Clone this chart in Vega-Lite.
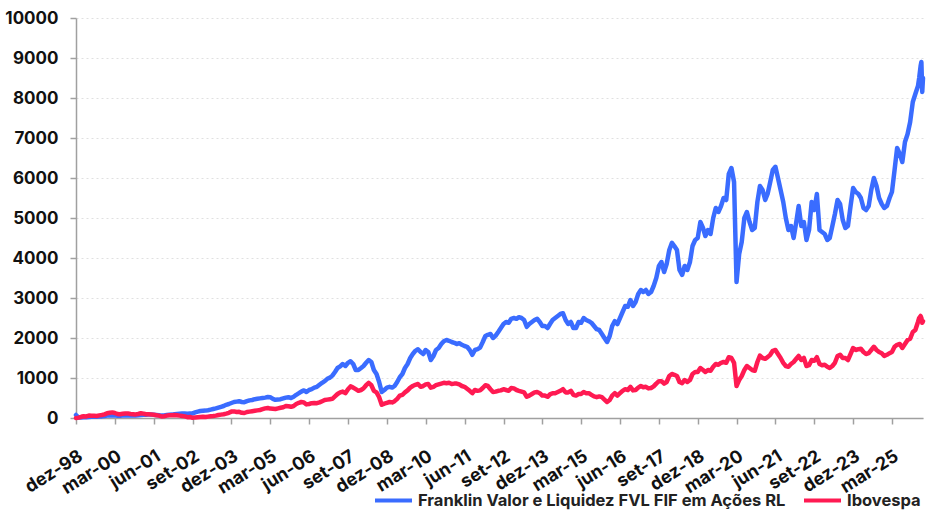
{
  "$schema": "https://vega.github.io/schema/vega-lite/v6.json",
  "width": 847,
  "height": 400,
  "autosize": {"type": "none"},
  "padding": {"left": 76, "top": 18, "right": 6, "bottom": 92},
  "background": "white",
  "config": {
    "font": "Inter",
    "view": {"stroke": null},
    "axis": {"labelFont": "Inter", "labelFontWeight": "bold", "labelColor": "#111111", "labelFontSize": 16, "domainColor": "#a0a0a0", "tickColor": "#a0a0a0", "domainWidth": 1.5, "tickWidth": 1.5, "tickSize": 6}
  },
  "data": {"values": [
{"d":"1998-12-01","f":75,"i":0},
{"d":"1999-01-01","f":10,"i":10},{"d":"1999-02-01","f":15,"i":30},{"d":"1999-03-01","f":20,"i":45},{"d":"1999-04-01","f":20,"i":40},{"d":"1999-05-01","f":25,"i":60},{"d":"1999-06-01","f":30,"i":55},{"d":"1999-07-01","f":35,"i":55},{"d":"1999-08-01","f":30,"i":50},{"d":"1999-09-01","f":35,"i":65},{"d":"1999-10-01","f":40,"i":75},{"d":"1999-11-01","f":50,"i":90},{"d":"1999-12-01","f":60,"i":120},
{"d":"2000-01-01","f":65,"i":130},{"d":"2000-02-01","f":70,"i":140},{"d":"2000-03-01","f":65,"i":125},{"d":"2000-04-01","f":55,"i":100},{"d":"2000-05-01","f":55,"i":95},{"d":"2000-06-01","f":60,"i":105},{"d":"2000-07-01","f":65,"i":110},{"d":"2000-08-01","f":70,"i":115},{"d":"2000-09-01","f":65,"i":100},{"d":"2000-10-01","f":65,"i":95},{"d":"2000-11-01","f":65,"i":90},{"d":"2000-12-01","f":70,"i":100},
{"d":"2001-01-01","f":75,"i":120},{"d":"2001-02-01","f":80,"i":110},{"d":"2001-03-01","f":80,"i":95},{"d":"2001-04-01","f":85,"i":95},{"d":"2001-05-01","f":85,"i":90},{"d":"2001-06-01","f":80,"i":80},{"d":"2001-07-01","f":75,"i":70},{"d":"2001-08-01","f":70,"i":60},{"d":"2001-09-01","f":60,"i":40},{"d":"2001-10-01","f":65,"i":45},{"d":"2001-11-01","f":75,"i":60},{"d":"2001-12-01","f":80,"i":70},
{"d":"2002-01-01","f":85,"i":70},{"d":"2002-02-01","f":95,"i":75},{"d":"2002-03-01","f":100,"i":70},{"d":"2002-04-01","f":105,"i":60},{"d":"2002-05-01","f":110,"i":50},{"d":"2002-06-01","f":110,"i":40},{"d":"2002-07-01","f":105,"i":20},{"d":"2002-08-01","f":110,"i":25},{"d":"2002-09-01","f":115,"i":5},{"d":"2002-10-01","f":140,"i":15},{"d":"2002-11-01","f":160,"i":20},{"d":"2002-12-01","f":175,"i":25},
{"d":"2003-01-01","f":180,"i":30},{"d":"2003-02-01","f":185,"i":25},{"d":"2003-03-01","f":195,"i":35},{"d":"2003-04-01","f":210,"i":45},{"d":"2003-05-01","f":225,"i":50},{"d":"2003-06-01","f":240,"i":60},{"d":"2003-07-01","f":260,"i":75},{"d":"2003-08-01","f":280,"i":85},{"d":"2003-09-01","f":300,"i":95},{"d":"2003-10-01","f":330,"i":110},{"d":"2003-11-01","f":350,"i":130},{"d":"2003-12-01","f":375,"i":160},
{"d":"2004-01-01","f":400,"i":165},{"d":"2004-02-01","f":410,"i":150},{"d":"2004-03-01","f":420,"i":155},{"d":"2004-04-01","f":400,"i":130},{"d":"2004-05-01","f":395,"i":125},{"d":"2004-06-01","f":420,"i":150},{"d":"2004-07-01","f":440,"i":160},{"d":"2004-08-01","f":450,"i":170},{"d":"2004-09-01","f":470,"i":180},{"d":"2004-10-01","f":480,"i":190},{"d":"2004-11-01","f":490,"i":200},{"d":"2004-12-01","f":500,"i":220},
{"d":"2005-01-01","f":510,"i":240},{"d":"2005-02-01","f":525,"i":250},{"d":"2005-03-01","f":520,"i":235},{"d":"2005-04-01","f":480,"i":230},{"d":"2005-05-01","f":455,"i":225},{"d":"2005-06-01","f":460,"i":240},{"d":"2005-07-01","f":470,"i":255},{"d":"2005-08-01","f":490,"i":270},{"d":"2005-09-01","f":510,"i":300},{"d":"2005-10-01","f":520,"i":295},{"d":"2005-11-01","f":500,"i":280},{"d":"2005-12-01","f":530,"i":300},
{"d":"2006-01-01","f":580,"i":350},{"d":"2006-02-01","f":620,"i":380},{"d":"2006-03-01","f":660,"i":400},{"d":"2006-04-01","f":690,"i":390},{"d":"2006-05-01","f":650,"i":340},{"d":"2006-06-01","f":700,"i":350},{"d":"2006-07-01","f":720,"i":370},{"d":"2006-08-01","f":760,"i":375},{"d":"2006-09-01","f":780,"i":370},{"d":"2006-10-01","f":830,"i":390},{"d":"2006-11-01","f":880,"i":420},{"d":"2006-12-01","f":920,"i":450},
{"d":"2007-01-01","f":980,"i":460},{"d":"2007-02-01","f":1010,"i":470},{"d":"2007-03-01","f":1060,"i":480},{"d":"2007-04-01","f":1150,"i":540},{"d":"2007-05-01","f":1250,"i":600},{"d":"2007-06-01","f":1290,"i":640},{"d":"2007-07-01","f":1350,"i":660},{"d":"2007-08-01","f":1300,"i":620},{"d":"2007-09-01","f":1380,"i":720},{"d":"2007-10-01","f":1420,"i":790},{"d":"2007-11-01","f":1350,"i":760},{"d":"2007-12-01","f":1200,"i":720},
{"d":"2008-01-01","f":1200,"i":680},{"d":"2008-02-01","f":1250,"i":700},{"d":"2008-03-01","f":1300,"i":740},{"d":"2008-04-01","f":1380,"i":820},{"d":"2008-05-01","f":1450,"i":880},{"d":"2008-06-01","f":1400,"i":820},{"d":"2008-07-01","f":1200,"i":680},{"d":"2008-08-01","f":1100,"i":640},{"d":"2008-09-01","f":900,"i":520},{"d":"2008-10-01","f":650,"i":330},{"d":"2008-11-01","f":700,"i":360},{"d":"2008-12-01","f":760,"i":380},
{"d":"2009-01-01","f":780,"i":400},{"d":"2009-02-01","f":760,"i":390},{"d":"2009-03-01","f":800,"i":420},{"d":"2009-04-01","f":900,"i":480},{"d":"2009-05-01","f":1020,"i":560},{"d":"2009-06-01","f":1100,"i":580},{"d":"2009-07-01","f":1250,"i":640},{"d":"2009-08-01","f":1350,"i":690},{"d":"2009-09-01","f":1500,"i":760},{"d":"2009-10-01","f":1600,"i":800},{"d":"2009-11-01","f":1680,"i":830},{"d":"2009-12-01","f":1720,"i":850},
{"d":"2010-01-01","f":1650,"i":780},{"d":"2010-02-01","f":1600,"i":800},{"d":"2010-03-01","f":1700,"i":840},{"d":"2010-04-01","f":1650,"i":850},{"d":"2010-05-01","f":1450,"i":760},{"d":"2010-06-01","f":1550,"i":780},{"d":"2010-07-01","f":1700,"i":820},{"d":"2010-08-01","f":1750,"i":840},{"d":"2010-09-01","f":1850,"i":860},{"d":"2010-10-01","f":1920,"i":880},{"d":"2010-11-01","f":1950,"i":870},{"d":"2010-12-01","f":1930,"i":880},
{"d":"2011-01-01","f":1900,"i":850},{"d":"2011-02-01","f":1880,"i":860},{"d":"2011-03-01","f":1850,"i":860},{"d":"2011-04-01","f":1870,"i":840},{"d":"2011-05-01","f":1830,"i":800},{"d":"2011-06-01","f":1800,"i":780},{"d":"2011-07-01","f":1780,"i":730},{"d":"2011-08-01","f":1700,"i":680},{"d":"2011-09-01","f":1580,"i":620},{"d":"2011-10-01","f":1700,"i":700},{"d":"2011-11-01","f":1720,"i":680},{"d":"2011-12-01","f":1760,"i":690},
{"d":"2012-01-01","f":1900,"i":750},{"d":"2012-02-01","f":2050,"i":820},{"d":"2012-03-01","f":2080,"i":800},{"d":"2012-04-01","f":2100,"i":720},{"d":"2012-05-01","f":2000,"i":650},{"d":"2012-06-01","f":2060,"i":660},{"d":"2012-07-01","f":2150,"i":680},{"d":"2012-08-01","f":2250,"i":690},{"d":"2012-09-01","f":2350,"i":720},{"d":"2012-10-01","f":2400,"i":700},{"d":"2012-11-01","f":2380,"i":680},{"d":"2012-12-01","f":2480,"i":750},
{"d":"2013-01-01","f":2500,"i":740},{"d":"2013-02-01","f":2480,"i":700},{"d":"2013-03-01","f":2520,"i":680},{"d":"2013-04-01","f":2500,"i":660},{"d":"2013-05-01","f":2450,"i":640},{"d":"2013-06-01","f":2280,"i":530},{"d":"2013-07-01","f":2350,"i":560},{"d":"2013-08-01","f":2400,"i":600},{"d":"2013-09-01","f":2450,"i":640},{"d":"2013-10-01","f":2480,"i":650},{"d":"2013-11-01","f":2400,"i":620},{"d":"2013-12-01","f":2300,"i":560},
{"d":"2014-01-01","f":2300,"i":560},{"d":"2014-02-01","f":2250,"i":530},{"d":"2014-03-01","f":2350,"i":590},{"d":"2014-04-01","f":2450,"i":620},{"d":"2014-05-01","f":2500,"i":620},{"d":"2014-06-01","f":2550,"i":650},{"d":"2014-07-01","f":2600,"i":680},{"d":"2014-08-01","f":2620,"i":720},{"d":"2014-09-01","f":2450,"i":640},{"d":"2014-10-01","f":2350,"i":640},{"d":"2014-11-01","f":2400,"i":680},{"d":"2014-12-01","f":2250,"i":580},
{"d":"2015-01-01","f":2250,"i":560},{"d":"2015-02-01","f":2400,"i":600},{"d":"2015-03-01","f":2380,"i":600},{"d":"2015-04-01","f":2500,"i":650},{"d":"2015-05-01","f":2450,"i":620},{"d":"2015-06-01","f":2420,"i":620},{"d":"2015-07-01","f":2380,"i":580},{"d":"2015-08-01","f":2300,"i":540},{"d":"2015-09-01","f":2220,"i":520},{"d":"2015-10-01","f":2200,"i":540},{"d":"2015-11-01","f":2100,"i":520},{"d":"2015-12-01","f":2000,"i":460},
{"d":"2016-01-01","f":1900,"i":400},{"d":"2016-02-01","f":2050,"i":450},{"d":"2016-03-01","f":2300,"i":560},{"d":"2016-04-01","f":2420,"i":620},{"d":"2016-05-01","f":2350,"i":560},{"d":"2016-06-01","f":2500,"i":620},{"d":"2016-07-01","f":2650,"i":680},{"d":"2016-08-01","f":2800,"i":720},{"d":"2016-09-01","f":2780,"i":700},{"d":"2016-10-01","f":2950,"i":780},{"d":"2016-11-01","f":2800,"i":690},{"d":"2016-12-01","f":2900,"i":700},
{"d":"2017-01-01","f":3100,"i":760},{"d":"2017-02-01","f":3200,"i":800},{"d":"2017-03-01","f":3150,"i":770},{"d":"2017-04-01","f":3200,"i":780},{"d":"2017-05-01","f":3100,"i":740},{"d":"2017-06-01","f":3150,"i":750},{"d":"2017-07-01","f":3300,"i":790},{"d":"2017-08-01","f":3500,"i":860},{"d":"2017-09-01","f":3800,"i":920},{"d":"2017-10-01","f":3900,"i":920},{"d":"2017-11-01","f":3650,"i":860},{"d":"2017-12-01","f":3850,"i":900},
{"d":"2018-01-01","f":4200,"i":1050},{"d":"2018-02-01","f":4380,"i":1100},{"d":"2018-03-01","f":4300,"i":1080},{"d":"2018-04-01","f":4200,"i":1050},{"d":"2018-05-01","f":3700,"i":900},{"d":"2018-06-01","f":3580,"i":870},{"d":"2018-07-01","f":3800,"i":950},{"d":"2018-08-01","f":3700,"i":900},{"d":"2018-09-01","f":3900,"i":950},{"d":"2018-10-01","f":4300,"i":1100},{"d":"2018-11-01","f":4450,"i":1150},{"d":"2018-12-01","f":4500,"i":1150},
{"d":"2019-01-01","f":4900,"i":1250},{"d":"2019-02-01","f":4750,"i":1200},{"d":"2019-03-01","f":4550,"i":1150},{"d":"2019-04-01","f":4700,"i":1200},{"d":"2019-05-01","f":4600,"i":1180},{"d":"2019-06-01","f":5000,"i":1280},{"d":"2019-07-01","f":5250,"i":1350},{"d":"2019-08-01","f":5150,"i":1330},{"d":"2019-09-01","f":5300,"i":1380},{"d":"2019-10-01","f":5500,"i":1400},{"d":"2019-11-01","f":5450,"i":1380},{"d":"2019-12-01","f":6100,"i":1520},
{"d":"2020-01-01","f":6250,"i":1500},{"d":"2020-02-01","f":5900,"i":1380},{"d":"2020-03-01","f":3400,"i":800},{"d":"2020-04-01","f":4100,"i":950},{"d":"2020-05-01","f":4400,"i":1050},{"d":"2020-06-01","f":5000,"i":1200},{"d":"2020-07-01","f":5150,"i":1300},{"d":"2020-08-01","f":4900,"i":1250},{"d":"2020-09-01","f":4700,"i":1200},{"d":"2020-10-01","f":4750,"i":1180},{"d":"2020-11-01","f":5400,"i":1400},{"d":"2020-12-01","f":5800,"i":1560},
{"d":"2021-01-01","f":5700,"i":1500},{"d":"2021-02-01","f":5450,"i":1480},{"d":"2021-03-01","f":5600,"i":1520},{"d":"2021-04-01","f":5900,"i":1580},{"d":"2021-05-01","f":6200,"i":1680},{"d":"2021-06-01","f":6280,"i":1700},{"d":"2021-07-01","f":6000,"i":1600},{"d":"2021-08-01","f":5700,"i":1500},{"d":"2021-09-01","f":5400,"i":1380},{"d":"2021-10-01","f":5000,"i":1300},{"d":"2021-11-01","f":4700,"i":1280},{"d":"2021-12-01","f":4800,"i":1350},
{"d":"2022-01-01","f":4500,"i":1400},{"d":"2022-02-01","f":4900,"i":1480},{"d":"2022-03-01","f":5300,"i":1550},{"d":"2022-04-01","f":4800,"i":1450},{"d":"2022-05-01","f":4900,"i":1500},{"d":"2022-06-01","f":4450,"i":1300},{"d":"2022-07-01","f":4700,"i":1320},{"d":"2022-08-01","f":5400,"i":1450},{"d":"2022-09-01","f":5200,"i":1430},{"d":"2022-10-01","f":5600,"i":1520},{"d":"2022-11-01","f":4700,"i":1350},{"d":"2022-12-01","f":4650,"i":1320},
{"d":"2023-01-01","f":4600,"i":1330},{"d":"2023-02-01","f":4450,"i":1280},{"d":"2023-03-01","f":4500,"i":1250},{"d":"2023-04-01","f":4800,"i":1300},{"d":"2023-05-01","f":5100,"i":1380},{"d":"2023-06-01","f":5450,"i":1550},{"d":"2023-07-01","f":5350,"i":1580},{"d":"2023-08-01","f":4950,"i":1500},{"d":"2023-09-01","f":4750,"i":1500},{"d":"2023-10-01","f":4800,"i":1450},{"d":"2023-11-01","f":5300,"i":1600},{"d":"2023-12-01","f":5750,"i":1750},
{"d":"2024-01-01","f":5650,"i":1700},{"d":"2024-02-01","f":5600,"i":1720},{"d":"2024-03-01","f":5500,"i":1730},{"d":"2024-04-01","f":5250,"i":1650},{"d":"2024-05-01","f":5200,"i":1600},{"d":"2024-06-01","f":5300,"i":1620},{"d":"2024-07-01","f":5700,"i":1700},{"d":"2024-08-01","f":6000,"i":1780},{"d":"2024-09-01","f":5800,"i":1700},{"d":"2024-10-01","f":5500,"i":1650},{"d":"2024-11-01","f":5350,"i":1620},{"d":"2024-12-01","f":5250,"i":1550},
{"d":"2025-01-01","f":5300,"i":1580},{"d":"2025-02-01","f":5500,"i":1620},{"d":"2025-03-01","f":5650,"i":1650},{"d":"2025-04-01","f":6200,"i":1780},{"d":"2025-05-01","f":6750,"i":1830},{"d":"2025-06-01","f":6600,"i":1850},{"d":"2025-07-01","f":6400,"i":1750},{"d":"2025-08-01","f":6900,"i":1850},{"d":"2025-09-01","f":7100,"i":1950},{"d":"2025-10-01","f":7400,"i":1980},{"d":"2025-11-01","f":7900,"i":2150},{"d":"2025-12-01","f":8100,"i":2200},
{"d":"2026-01-01","f":8300,"i":2400},{"d":"2026-01-15","f":8500,"i":2500},{"d":"2026-02-01","f":8800,"i":2550},{"d":"2026-02-10","f":8900,"i":2500},{"d":"2026-02-20","f":8150,"i":2380},{"d":"2026-03-01","f":8500,"i":2420}
  ]},
  "transform": [{"fold": ["f", "i"], "as": ["serie", "valor"]}],
  "mark": {"type": "line", "strokeWidth": 4.5, "strokeJoin": "round", "strokeCap": "round"},
  "encoding": {
    "x": {
      "field": "d", "type": "temporal",
      "scale": {"type": "utc", "domain": [{"year": 1998, "month": 12, "date": 1, "utc": true}, {"year": 2026, "month": 3, "date": 1, "utc": true}], "nice": false},
      "axis": {
        "title": null, "grid": false, "labelAngle": -32, "labelAlign": "right", "labelBaseline": "top", "labelPadding": 23, "labelFontSize": 18, "labelOverlap": false, "labelBound": false, "labelFlush": false,
        "values": [
          {"year": 1998, "month": 12, "date": 1, "utc": true}, {"year": 2000, "month": 3, "date": 1, "utc": true},
          {"year": 2001, "month": 6, "date": 1, "utc": true}, {"year": 2002, "month": 9, "date": 1, "utc": true},
          {"year": 2003, "month": 12, "date": 1, "utc": true}, {"year": 2005, "month": 3, "date": 1, "utc": true},
          {"year": 2006, "month": 6, "date": 1, "utc": true}, {"year": 2007, "month": 9, "date": 1, "utc": true},
          {"year": 2008, "month": 12, "date": 1, "utc": true}, {"year": 2010, "month": 3, "date": 1, "utc": true},
          {"year": 2011, "month": 6, "date": 1, "utc": true}, {"year": 2012, "month": 9, "date": 1, "utc": true},
          {"year": 2013, "month": 12, "date": 1, "utc": true}, {"year": 2015, "month": 3, "date": 1, "utc": true},
          {"year": 2016, "month": 6, "date": 1, "utc": true}, {"year": 2017, "month": 9, "date": 1, "utc": true},
          {"year": 2018, "month": 12, "date": 1, "utc": true}, {"year": 2020, "month": 3, "date": 1, "utc": true},
          {"year": 2021, "month": 6, "date": 1, "utc": true}, {"year": 2022, "month": 9, "date": 1, "utc": true},
          {"year": 2023, "month": 12, "date": 1, "utc": true}, {"year": 2025, "month": 3, "date": 1, "utc": true}
        ],
        "labelExpr": "['jan','fev','mar','abr','mai','jun','jul','ago','set','out','nov','dez'][utcmonth(datum.value)] + '-' + utcFormat(datum.value, '%y')"
      }
    },
    "y": {
      "field": "valor", "type": "quantitative",
      "scale": {"domain": [0, 10000], "nice": false},
      "axis": {
        "title": null, "values": [0,1000,2000,3000,4000,5000,6000,7000,8000,9000,10000],
        "format": "d", "labelPadding": 12, "labelFontSize": 17,
        "grid": true, "gridColor": "#e0e0e0", "gridDash": [2, 3], "gridWidth": 1
      }
    },
    "color": {
      "field": "serie", "type": "nominal",
      "scale": {"domain": ["f", "i"], "range": ["#3a6cff", "#ff1a52"]},
      "legend": {
        "title": null, "orient": "none", "legendX": 297, "legendY": 462, "padding": 0, "direction": "horizontal",
        "symbolType": "stroke", "symbolSize": 1369, "symbolStrokeWidth": 4,
        "labelFont": "Inter", "labelFontSize": 16.5, "labelFontWeight": "bold", "labelColor": "#222222",
        "labelLimit": 600, "labelOffset": 4, "columnPadding": 10,
        "labelExpr": "datum.label == 'f' ? 'Franklin Valor e Liquidez FVL FIF em Ações RL' : 'Ibovespa'"
      }
    }
  }
}
